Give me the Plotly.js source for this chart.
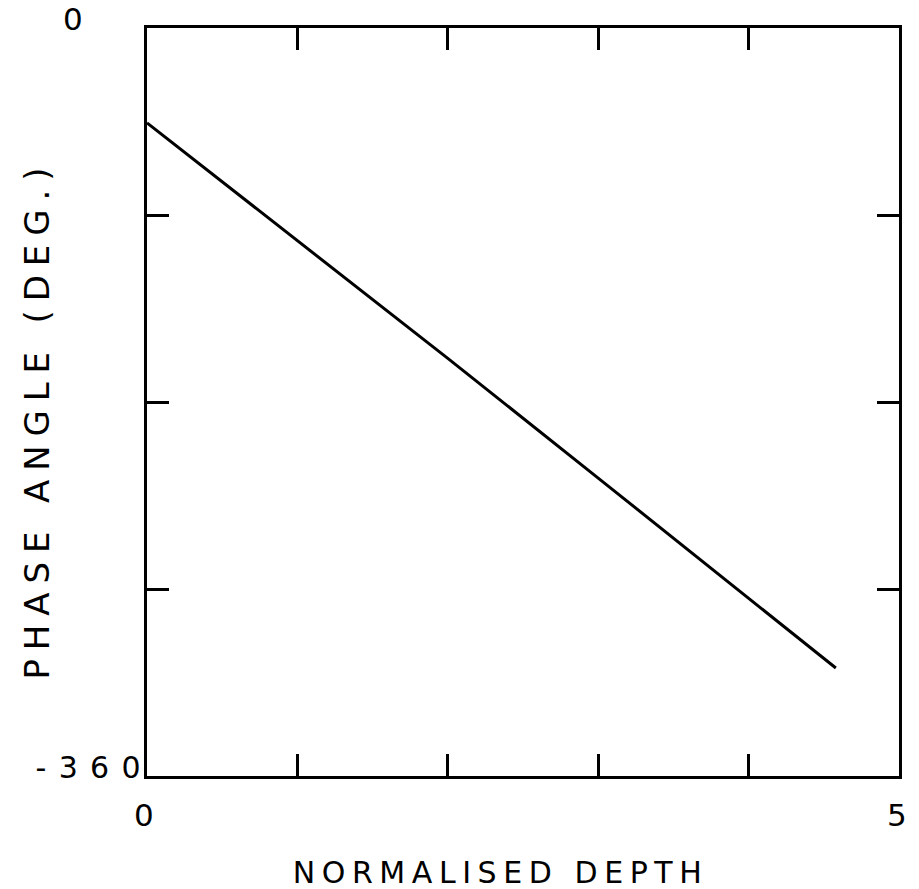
<!DOCTYPE html>
<html>
<head>
<meta charset="utf-8">
<script src="https://cdn.plot.ly/plotly-3.0.1.min.js"></script>
<style>
html,body{margin:0;padding:0;background:#fff;}
#chart{width:919px;height:889px;}
</style>
</head>
<body>
<div id="chart"></div>
<script>
// Data
const depth = [0, 1, 2, 3, 4, 4.58];
const phase = [-45.7, -102.5, -159.0, -216.6, -274.3, -308.0];
const xTickVals = [0, 1, 2, 3, 4, 5];
const yTickVals = [-360, -270, -180, -90, 0];
const xTitle = 'NORMALISED DEPTH';
const yTitle = 'PHASE ANGLE (DEG.)';
const xTickLabels = ['0', '5'];
const yTickLabels = ['0', '-360'];

const FONT = 'DejaVu Sans';
const L = 147, R = 20, T = 28, B = 113, W = 919, H = 889;
const pw = W - L - R, ph = H - T - B;
const px = p => (p - L) / pw;       // pixel -> paper x
const py = p => (H - B - p) / ph;   // pixel -> paper y

const trace = {
  x: depth, y: phase, type: 'scatter', mode: 'lines',
  line: {color: '#000', width: 3}, hoverinfo: 'none'
};

const axisCommon = {
  showgrid: false, zeroline: false, showline: true, linecolor: '#000', linewidth: 3,
  mirror: 'ticks', ticks: 'inside', ticklen: 22, tickwidth: 3, tickcolor: '#000',
  showticklabels: false, fixedrange: true
};

const f = s => ({family: FONT, size: s, color: '#000'});
const base = {showarrow: false, xanchor: 'center', yanchor: 'middle'};
const ann = [
  Object.assign({}, base, {text: xTitle, xref: 'paper', yref: 'paper', x: px(497), y: py(872), font: f(30)}),
  Object.assign({}, base, {text: yTitle, xref: 'paper', yref: 'paper', x: px(37), y: py(424), textangle: -90, font: f(34)}),
  Object.assign({}, base, {text: xTickLabels[0], xref: 'x', yref: 'paper', x: xTickVals[0], xshift: -3, y: py(815), font: f(31)}),
  Object.assign({}, base, {text: xTickLabels[1], xref: 'x', yref: 'paper', x: xTickVals[5], xshift: -2, y: py(815), font: f(31)}),
  Object.assign({}, base, {text: yTickLabels[0], xref: 'paper', yref: 'paper', x: px(73), y: py(19), font: f(31)}),
  Object.assign({}, base, {text: yTickLabels[1], xref: 'paper', yref: 'paper', x: px(88), y: py(767), font: f(30)})
];

const layout = {
  width: W, height: H,
  margin: {l: L, r: R, t: T, b: B, pad: 0},
  paper_bgcolor: '#fff', plot_bgcolor: '#fff',
  showlegend: false,
  xaxis: Object.assign({}, axisCommon, {range: [0, 5], tickvals: xTickVals}),
  yaxis: Object.assign({}, axisCommon, {range: [-360, 0], tickvals: yTickVals}),
  annotations: ann
};

Plotly.newPlot('chart', [trace], layout, {displayModeBar: false, staticPlot: true}).then(() => {
  const target = [409, 512, 0, 0, 0, 105];
  document.querySelectorAll('.annotation-text').forEach((el, i) => {
    const t = target[i];
    if (!t) return;
    const n = el.textContent.length;
    const nat = el.getComputedTextLength();
    const s = Math.max(0, (t - nat) / (n - 1));
    el.style.letterSpacing = s + 'px';
    el.setAttribute('dx', s / 2);
  });
});
</script>
</body>
</html>
